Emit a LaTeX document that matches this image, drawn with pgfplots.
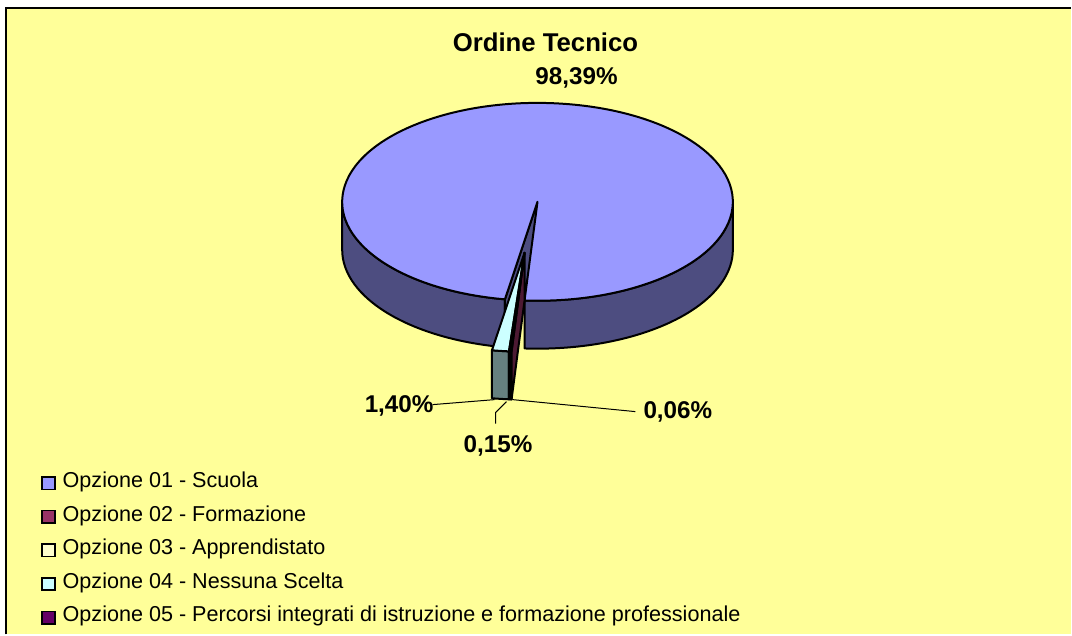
\documentclass[border=0pt]{standalone}
\usepackage{fontspec}
\setmainfont{Liberation Sans}
\usepackage{pgfplots}
\usepackage{pgfplotstable}
\pgfplotsset{compat=1.18}
\definecolor{bgyellow}{HTML}{FFFF99}
\definecolor{cAtop}{HTML}{9999FF}
\definecolor{cAside}{HTML}{4D4D80}
\definecolor{cBtop}{HTML}{993366}
\definecolor{cBside}{HTML}{4D1A33}
\definecolor{cCtop}{HTML}{FFFFCC}
\definecolor{cCside}{HTML}{808066}
\definecolor{cDtop}{HTML}{CCFFFF}
\definecolor{cDside}{HTML}{668080}
\definecolor{cEtop}{HTML}{660066}
\pgfplotstableread{
opt value
1 98.39
2 0.06
3 0.15
4 1.40
5 0.00
}\piedata
\begin{document}
\begin{tikzpicture}
\pgfplotstablegetelem{0}{value}\of\piedata \let\vA\pgfplotsretval
\pgfplotstablegetelem{1}{value}\of\piedata \let\vB\pgfplotsretval
\pgfplotstablegetelem{2}{value}\of\piedata \let\vC\pgfplotsretval
\pgfplotstablegetelem{3}{value}\of\piedata \let\vD\pgfplotsretval
\pgfmathsetmacro\tS{260.4}
\pgfmathsetmacro\tA{\tS-3.6*\vA}
\pgfmathsetmacro\tB{\tA-3.6*\vB}
\pgfmathsetmacro\tC{\tB-3.6*\vC}
\pgfmathsetmacro\tD{\tC-3.6*\vD}
\def\rx{146.625pt}\def\ry{74.25pt}\def\dep{36pt}
\begin{axis}[hide axis, scale only axis, x=0.75pt, y=0.75pt,
  xmin=0, xmax=1072, ymin=0, ymax=635, clip=false]
% frame
\fill[white] (axis cs:0,0) rectangle (axis cs:1072,635);
\fill[bgyellow] (axis cs:6.5,0) rectangle (axis cs:1072,627);
\draw[line width=1.5pt] (axis cs:6.5,0) -- (axis cs:6.5,627) -- (axis cs:1072,627);
\begin{scope}[line width=1.5pt, line join=round]
% big slice sides
\filldraw[fill=cAside] (axis cs:538,433) ++(180:146.625pt and 74.25pt)
  arc[start angle=180, end angle=\tS, x radius=\rx, y radius=\ry]
  -- ++(0,-\dep)
  arc[start angle=\tS, end angle=180, x radius=\rx, y radius=\ry] -- cycle;
\filldraw[fill=cAside] (axis cs:538,433) ++(\tA:146.625pt and 74.25pt)
  arc[start angle=\tA, end angle=0, x radius=\rx, y radius=\ry]
  -- ++(0,-\dep)
  arc[start angle=0, end angle=\tA, x radius=\rx, y radius=\ry] -- cycle;
% big slice radial face
\filldraw[fill=cAside] (axis cs:538,433) -- ++(\tS:146.625pt and 74.25pt) -- ++(0,-\dep)
  -- ([yshift=-\dep]axis cs:538,433) -- cycle;
% big slice top
\filldraw[fill=cAtop] (axis cs:538,433) -- ++(\tS:146.625pt and 74.25pt)
  arc[start angle=\tS, end angle=\tA, x radius=\rx, y radius=\ry] -- cycle;
% exploded slices: outer sides
\filldraw[fill=cDside] (axis cs:525,382) ++(\tC:146.625pt and 74.25pt)
  arc[start angle=\tC, end angle=\tD, x radius=\rx, y radius=\ry]
  -- ++(0,-\dep)
  arc[start angle=\tD, end angle=\tC, x radius=\rx, y radius=\ry] -- cycle;
\filldraw[fill=cCside] (axis cs:525,382) ++(\tB:146.625pt and 74.25pt)
  arc[start angle=\tB, end angle=\tC, x radius=\rx, y radius=\ry]
  -- ++(0,-\dep)
  arc[start angle=\tC, end angle=\tB, x radius=\rx, y radius=\ry] -- cycle;
\filldraw[fill=cBside] (axis cs:525,382) ++(\tA:146.625pt and 74.25pt)
  arc[start angle=\tA, end angle=\tB, x radius=\rx, y radius=\ry]
  -- ++(0,-\dep)
  arc[start angle=\tB, end angle=\tA, x radius=\rx, y radius=\ry] -- cycle;
% exploded radial face
\filldraw[fill=cBside] (axis cs:525,382) -- ++(\tA:146.625pt and 74.25pt) -- ++(0,-\dep)
  -- ([yshift=-\dep]axis cs:525,382) -- cycle;
% exploded tops
\filldraw[fill=cDtop] (axis cs:525,382) -- ++(\tC:146.625pt and 74.25pt)
  arc[start angle=\tC, end angle=\tD, x radius=\rx, y radius=\ry] -- cycle;
\filldraw[fill=cCtop] (axis cs:525,382) -- ++(\tB:146.625pt and 74.25pt)
  arc[start angle=\tB, end angle=\tC, x radius=\rx, y radius=\ry] -- cycle;
\filldraw[fill=cBtop] (axis cs:525,382) -- ++(\tA:146.625pt and 74.25pt)
  arc[start angle=\tA, end angle=\tB, x radius=\rx, y radius=\ry] -- cycle;
\end{scope}
% leader lines
\draw[line width=0.75pt] (axis cs:433,230) -- (axis cs:495,235);
\draw[line width=0.75pt] (axis cs:513,235) -- (axis cs:636,223);
\draw[line width=0.75pt] (axis cs:507,233) -- (axis cs:496,222) -- (axis cs:496,211);
% title and labels
\node[anchor=base, inner sep=0, font=\fontsize{19.3}{22}\selectfont\bfseries] at (axis cs:546,583) {Ordine Tecnico};
\node[anchor=base, inner sep=0, font=\fontsize{18.2}{21}\selectfont\bfseries] at (axis cs:577,550) {98,39\%};
\node[anchor=base, inner sep=0, font=\fontsize{18.2}{21}\selectfont\bfseries] at (axis cs:399.5,222) {1,40\%};
\node[anchor=base, inner sep=0, font=\fontsize{18.2}{21}\selectfont\bfseries] at (axis cs:678.5,216) {0,06\%};
\node[anchor=base, inner sep=0, font=\fontsize{18.2}{21}\selectfont\bfseries] at (axis cs:498.5,182) {0,15\%};
% legend
\begin{scope}[line width=1.2pt]
\filldraw[fill=cAtop] (axis cs:42,145) rectangle (axis cs:55,157.5);
\filldraw[fill=cBtop] (axis cs:42,111.4) rectangle (axis cs:55,123.9);
\filldraw[fill=cCtop] (axis cs:42,77.8) rectangle (axis cs:55,90.3);
\filldraw[fill=cDtop] (axis cs:42,44.2) rectangle (axis cs:55,56.7);
\filldraw[fill=cEtop] (axis cs:42,10.6) rectangle (axis cs:55,23.1);
\end{scope}
\begin{scope}[every node/.style={anchor=base west, inner sep=0, font=\fontsize{16.2}{19}\selectfont}]
\node at (axis cs:62.5,147) {Opzione 01 - Scuola};
\node at (axis cs:62.5,113.4) {Opzione 02 - Formazione};
\node at (axis cs:62.5,79.8) {Opzione 03 - Apprendistato};
\node at (axis cs:62.5,46.2) {Opzione 04 - Nessuna Scelta};
\node at (axis cs:62.5,12.6) {Opzione 05 - Percorsi integrati di istruzione e formazione professionale};
\end{scope}
\end{axis}
\end{tikzpicture}
\end{document}
